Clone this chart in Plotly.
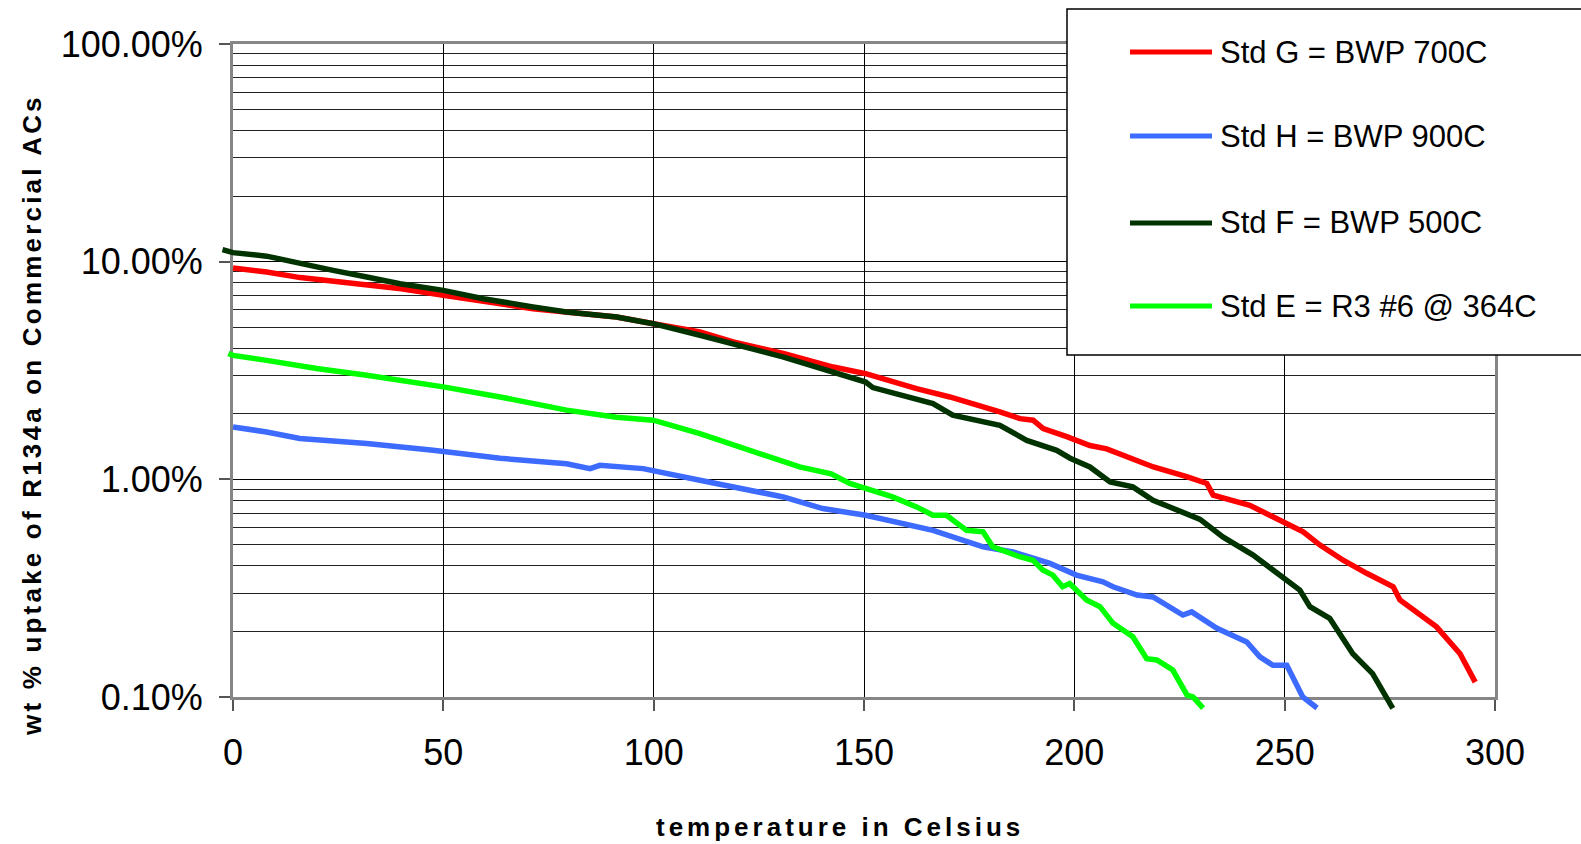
import plotly.graph_objects as go

# ---------------- data (temperature in C, uptake in %) ----------------
series_names = ["Std G = BWP 700C", "Std H = BWP 900C", "Std F = BWP 500C", "Std E = R3 #6 @ 364C"]
series_colors = ["#FF0000", "#3D6BFF", "#003300", "#00FF00"]

g_temp = [0, 8, 16, 28, 40, 50, 63.5, 71.3, 83.3, 91.2, 100, 111, 118.9, 130.8, 142.7, 150.4,
          162.5, 170.4, 182.3, 187.1, 190.2, 192.6, 198.2, 203.7, 207.7, 212.4, 218.8, 226.7,
          231.5, 233, 241.7, 249.7, 254.4, 258.4, 263.9, 269.5, 275.8, 277.4, 286.1, 291.7, 295.3]
g_pct = [9.35, 8.96, 8.45, 7.97, 7.51, 7.00, 6.41, 6.08, 5.77, 5.57, 5.19, 4.75, 4.28, 3.79, 3.28, 3.06,
         2.61, 2.39, 2.04, 1.90, 1.87, 1.71, 1.57, 1.43, 1.38, 1.28, 1.14, 1.03,
         0.957, 0.846, 0.760, 0.637, 0.574, 0.499, 0.425, 0.370, 0.321, 0.279, 0.210, 0.158, 0.117]

h_temp = [0, 8, 15.9, 31.8, 47.6, 63.5, 79.3, 84.9, 87.2, 97.5, 111, 118.9, 130.8, 140.2, 150.4,
          166.4, 178.3, 185.4, 194.2, 200.5, 206.8, 209.2, 214.9, 218.7, 225.8, 227.9, 233.9,
          241, 244.1, 247.2, 250.5, 254.3, 257.7]
h_pct = [1.74, 1.65, 1.54, 1.46, 1.36, 1.25, 1.18, 1.12, 1.16, 1.12, 0.991, 0.923, 0.830, 0.734, 0.684,
         0.583, 0.490, 0.464, 0.411, 0.363, 0.338, 0.321, 0.294, 0.288, 0.238, 0.246, 0.207,
         0.179, 0.153, 0.140, 0.140, 0.100, 0.089]

f_temp = [-2.5, 0, 8, 15.9, 23.8, 31.8, 39.7, 50, 59.5, 71.3, 79.3, 91.2, 99.9, 111, 130.7, 150.4,
          152.1, 166.4, 171.1, 182.3, 188.7, 195.8, 199, 203.7, 208.5, 213.9, 218.7, 229.9, 235.3,
          242.5, 249.6, 253.6, 256, 260.7, 266.2, 270.9, 275.7]
f_pct = [11.35, 11.0, 10.6, 9.79, 9.12, 8.50, 7.92, 7.38, 6.76, 6.19, 5.87, 5.57, 5.19, 4.59, 3.65, 2.80,
         2.64, 2.23, 1.97, 1.77, 1.51, 1.36, 1.25, 1.14, 0.973, 0.923, 0.802, 0.655, 0.544,
         0.449, 0.351, 0.310, 0.260, 0.230, 0.158, 0.128, 0.0887]

e_temp = [-1.1, 0, 8, 19.9, 31.8, 39.7, 50, 63.5, 79.3, 91.2, 99.9, 111, 126.8, 134.7, 142.2, 146.6,
          150.4, 156.8, 162.5, 166.4, 169.6, 174.4, 178.3, 180.6, 187, 190.2, 192.5, 194.9, 197.2,
          198.9, 202.9, 206.1, 209.2, 213.9, 217.2, 219.6, 223.4, 226.8, 228.2, 230.6]
e_pct = [3.78, 3.71, 3.52, 3.23, 3.01, 2.87, 2.66, 2.39, 2.08, 1.93, 1.87, 1.62, 1.27, 1.14, 1.06, 0.957,
         0.908, 0.830, 0.747, 0.684, 0.684, 0.583, 0.574, 0.490, 0.441, 0.425, 0.383, 0.363, 0.321,
         0.332, 0.279, 0.260, 0.218, 0.189, 0.150, 0.148, 0.133, 0.102, 0.100, 0.089]

x_ticks = [0, 50, 100, 150, 200, 250, 300]
y_tick_vals = [0.001, 0.01, 0.1, 1.0]
y_tick_text = ["0.10%", "1.00%", "10.00%", "100.00%"]
y_minor_vals = [m * 10.0 ** k for k in (-3, -2, -1) for m in range(2, 10)]

x_title = "temperature in Celsius"
y_title = "wt % uptake of R134a on Commercial ACs"

# ---------------- layout geometry (pixels) ----------------
W, H = 1581, 844
ML, MR, MT, MB = 180, 86, 44, 100
PLOT_L, PLOT_R, PLOT_T, PLOT_B = 233, 1495, 44, 697
PW, PH = W - ML - MR, H - MT - MB

def px(xp):
    return (xp - ML) / PW

def py(yp):
    return (H - MB - yp) / PH

xdom = [px(PLOT_L), 1.0]
ydom = [py(PLOT_B), 1.0]
# data axes span the whole paper area with the same scale, so lines may run past the frame
x_per_px = 300.0 / (PLOT_R - PLOT_L)
x2_range = [-(PLOT_L - ML) * x_per_px, 300]
dec_per_px = 3.0 / (PLOT_B - PLOT_T)
y2_range = [-3 - (H - MB - PLOT_B) * dec_per_px, 0]

FONT = "Arial, Liberation Sans, sans-serif"

fig = go.Figure()
# empty trace so the framed grid subplot is drawn
fig.add_trace(go.Scatter(x=[None], y=[None], mode="lines", xaxis="x", yaxis="y",
                         showlegend=False, hoverinfo="skip"))
all_series = [(g_temp, g_pct), (h_temp, h_pct), (f_temp, f_pct), (e_temp, e_pct)]
for (t, p), name, col in zip(all_series, series_names, series_colors):
    fig.add_trace(go.Scatter(x=t, y=[v / 100.0 for v in p], mode="lines", name=name,
                             line=dict(color=col, width=5.5), xaxis="x2", yaxis="y2",
                             showlegend=False))

axis_gray = "#868686"
fig.update_layout(
    width=W, height=H,
    margin=dict(l=ML, r=MR, t=MT, b=MB),
    paper_bgcolor="white", plot_bgcolor="rgba(0,0,0,0)",
    showlegend=False,
    xaxis=dict(domain=xdom, anchor="y", range=[0, 300], tickvals=x_ticks,
               showgrid=True, gridcolor="#000000", gridwidth=1, zeroline=False,
               ticks="outside", ticklen=11, tickwidth=1.5, tickcolor="#555555",
               showline=True, linecolor=axis_gray, linewidth=3, mirror=True,
               tickfont=dict(family=FONT, size=36, color="black"), ticklabelstandoff=11),
    yaxis=dict(domain=ydom, anchor="x", type="log", range=[-3, 0],
               tickvals=y_tick_vals, ticktext=y_tick_text,
               showgrid=True, gridcolor="#000000", gridwidth=1, zeroline=False,
               minor=dict(tickvals=y_minor_vals, showgrid=True, gridcolor="#222222",
                          gridwidth=1, ticks=""),
               ticks="outside", ticklen=11, tickwidth=1.5, tickcolor="#555555",
               showline=True, linecolor=axis_gray, linewidth=3, mirror=True,
               tickfont=dict(family=FONT, size=36, color="black"), ticklabelstandoff=9),
    xaxis2=dict(domain=[0, 1], anchor="y2", range=x2_range, visible=False, showgrid=False),
    yaxis2=dict(domain=[0, 1], anchor="x2", type="log", range=y2_range, visible=False,
                showgrid=False),
)

# titles
fig.add_annotation(xref="paper", yref="paper", x=px(840), y=py(827), showarrow=False,
                   text='<span style="letter-spacing:4px">' + x_title + '</span>',
                   font=dict(family=FONT, size=26, color="black", weight="bold"),
                   xanchor="center", yanchor="middle")
fig.add_annotation(xref="paper", yref="paper", x=px(32), y=py(415), showarrow=False,
                   text='<span style="letter-spacing:3.2px">' + y_title + '</span>',
                   textangle=-90,
                   font=dict(family=FONT, size=26, color="black", weight="bold"),
                   xanchor="center", yanchor="middle")

# legend box drawn by hand (long line samples as in the original)
fig.add_shape(type="rect", xref="paper", yref="paper", x0=px(1067), x1=px(1620),
              y0=py(355), y1=py(9), fillcolor="white", line=dict(color="#000000", width=1.5),
              layer="above")
legend_rows = [52, 136, 223, 306]
for name, col, yr in zip(series_names, series_colors, legend_rows):
    fig.add_shape(type="line", xref="paper", yref="paper", x0=px(1130), x1=px(1212),
                  y0=py(yr), y1=py(yr), line=dict(color=col, width=5), layer="above")
    fig.add_annotation(xref="paper", yref="paper", x=px(1218), y=py(yr), showarrow=False,
                       text=name, xanchor="left", yanchor="middle",
                       font=dict(family=FONT, size=31, color="black"))

fig.write_html("out.html")
